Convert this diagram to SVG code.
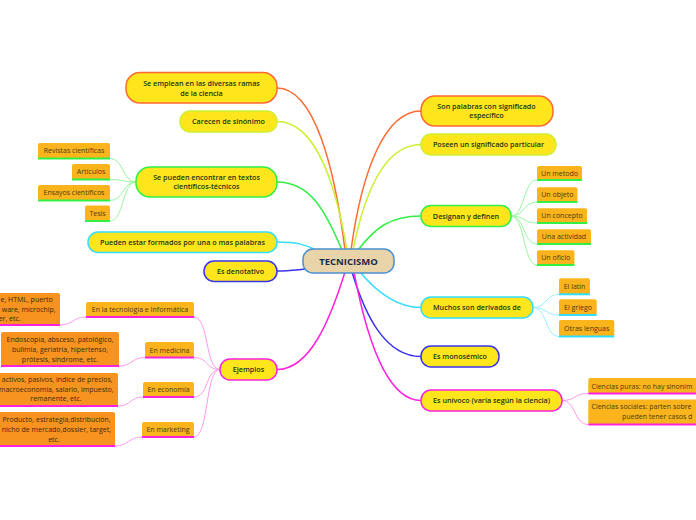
<svg xmlns="http://www.w3.org/2000/svg" width="696" height="520" viewBox="0 0 696 520">
<style>
.bg{fill:#ffffff}
.main{fill:#ffe61c;stroke-width:1.5}
.center{fill:#e8d4a8;stroke:#4a90d0;stroke-width:1.5}
.child{fill:#fbb41b}
.gchild{fill:#f7931e}
.t{font-family:"Open Sans","Noto Sans","DejaVu Sans",sans-serif;font-size:7.2px;font-weight:600;fill:#203514;text-anchor:middle}
.tc{font-family:"Open Sans","Noto Sans","DejaVu Sans",sans-serif;font-size:7px;fill:#4a3a12;text-anchor:middle}
.tg{font-family:"Open Sans","Noto Sans","DejaVu Sans",sans-serif;font-size:7px;fill:#3a2a10;text-anchor:middle}
.te{text-anchor:end}
.ts{text-anchor:start}
.tt{font-family:"Open Sans","Noto Sans","DejaVu Sans",sans-serif;font-size:9.5px;font-weight:700;fill:#1c2a4a;text-anchor:middle}
.c{fill:none;stroke-width:1.5}
.s{fill:none;stroke-width:1}
.u{fill:none;stroke-width:2}
.or{stroke:#ff6a33}
.yg{stroke:#ccf033}
.gr{stroke:#33ee44}
.cy{stroke:#33ddff}
.bl{stroke:#3a33ee}
.mg{stroke:#ff22dd}
.lgr{stroke:#99f7a0}
.lcy{stroke:#99eeff}
.lmg{stroke:#ff99ee}
</style>
<rect class="bg" x="0" y="0" width="696" height="520"/>
<g id="connectors">
<path class="c or" d="M345,250 C335,170 315,88 277,88"/>
<path class="c yg" d="M347,250 C335,180 315,121.5 277,121.5"/>
<path class="c gr" d="M342,250 C325,210 310,182 277,182"/>
<path class="c cy" d="M318,251 C305,244 295,242 277,242"/>
<path class="c bl" d="M306,269 C295,270 288,271 277,271"/>
<path class="c mg" d="M345,272 C330,320 310,369.5 277,369.5"/>
<path class="c or" d="M351,250 C362,170 385,111 421,111"/>
<path class="c yg" d="M353,250 C365,190 385,144.5 421,144.5"/>
<path class="c gr" d="M358,250 C375,228 390,216 421,216"/>
<path class="c cy" d="M360,272 C375,290 395,307.5 421,307.5"/>
<path class="c bl" d="M352,272 C365,315 385,356.5 421,356.5"/>
<path class="c mg" d="M354,272 C365,330 385,400.5 421,400.5"/>
<path class="s lgr" d="M136,182 C122,182 124,158.5 110,158.5"/>
<path class="s lgr" d="M136,182 C122,182 124,179.5 110,179.5"/>
<path class="s lgr" d="M136,182 C122,182 124,200.5 110,200.5"/>
<path class="s lgr" d="M136,182 C122,182 124,221 110,221"/>
<path class="s lmg" d="M220,369.5 C205,369.5 209,317 194,317"/>
<path class="s lmg" d="M220,369.5 C205,369.5 209,357.5 194,357.5"/>
<path class="s lmg" d="M220,369.5 C205,369.5 209,397 194,397"/>
<path class="s lmg" d="M220,369.5 C205,369.5 209,437 194,437"/>
<path class="s lmg" d="M86,317 C73,317 73,325 60,325"/>
<path class="s lmg" d="M145,357.5 C132,357.5 132,366 119,366"/>
<path class="s lmg" d="M143,397 C130,397 131,406 118,406"/>
<path class="s lmg" d="M142,437 C129,437 128,446 115,446"/>
<path class="s lgr" d="M511,216 C525,216 523,180 537,180"/>
<path class="s lgr" d="M511,216 C525,216 523,202 537,202"/>
<path class="s lgr" d="M511,216 C525,216 523,223 537,223"/>
<path class="s lgr" d="M511,216 C525,216 523,244 537,244"/>
<path class="s lgr" d="M511,216 C525,216 523,265 537,265"/>
<path class="s lcy" d="M533,307.5 C547,307.5 545,294.3 559,294.3"/>
<path class="s lcy" d="M533,307.5 C547,307.5 545,315 559,315"/>
<path class="s lcy" d="M533,307.5 C547,307.5 545,336.5 559,336.5"/>
<path class="s lmg" d="M562,400.5 C576,400.5 574,393.5 588,393.5"/>
<path class="s lmg" d="M562,400.5 C576,400.5 574,424.5 588,424.5"/>
</g>
<g id="center">
<rect class="center" x="303" y="249" width="91" height="24" rx="10"/>
<text class="tt" x="348.5" y="264.5">TECNICISMO</text>
</g>
<g id="n-emplean">
<rect class="main or" x="126" y="72.5" width="151" height="30.5" rx="14"/>
<text class="t" x="201.5" y="86">Se emplean en las diversas ramas</text>
<text class="t" x="201.5" y="95.5">de la ciencia</text>
</g>
<g id="n-carecen">
<rect class="main yg" x="180" y="111" width="97" height="21" rx="10"/>
<text class="t" x="228.5" y="124">Carecen de sinónimo</text>
</g>
<g id="n-textos">
<rect class="main gr" x="136" y="167" width="141" height="30" rx="14"/>
<text class="t" x="206.5" y="179.5">Se pueden encontrar en textos</text>
<text class="t" x="206.5" y="189">científicos-técnicos</text>
</g>
<g id="c-revistas">
<rect class="child" x="38" y="143" width="72" height="15.5" rx="2"/>
<path class="u gr" d="M38,158.5 H110"/>
<text class="tc" x="74" y="153">Revistas científicas</text>
</g>
<g id="c-articulos">
<rect class="child" x="72" y="164" width="38" height="15.5" rx="2"/>
<path class="u gr" d="M72,179.5 H110"/>
<text class="tc" x="91" y="174">Artículos</text>
</g>
<g id="c-ensayos">
<rect class="child" x="38" y="185" width="72" height="15.5" rx="2"/>
<path class="u gr" d="M38,200.5 H110"/>
<text class="tc" x="74" y="195">Ensayos científicos</text>
</g>
<g id="c-tesis">
<rect class="child" x="85" y="205.5" width="25" height="15.5" rx="2"/>
<path class="u gr" d="M85,221 H110"/>
<text class="tc" x="97.5" y="215.5">Tesis</text>
</g>
<g id="n-formados">
<rect class="main cy" x="88" y="232" width="189" height="20.5" rx="10"/>
<text class="t" x="182.5" y="245">Pueden estar formados por una o mas palabras</text>
</g>
<g id="n-denotativo">
<rect class="main bl" x="204" y="261" width="73" height="20.5" rx="10"/>
<text class="t" x="240.5" y="274">Es denotativo</text>
</g>
<g id="n-ejemplos">
<rect class="main mg" x="220" y="359" width="57" height="21" rx="10"/>
<text class="t" x="248.5" y="372">Ejemplos</text>
</g>
<g id="c-tecnologia">
<rect class="child" x="86" y="302" width="108" height="15" rx="2"/>
<path class="u mg" d="M86,317 H194"/>
<text class="tc" x="140" y="312">En la tecnología e Informática</text>
</g>
<g id="c-medicina">
<rect class="child" x="145" y="342" width="49" height="15.5" rx="2"/>
<path class="u mg" d="M145,357.5 H194"/>
<text class="tc" x="169.5" y="352.5">En medicina</text>
</g>
<g id="c-economia">
<rect class="child" x="143" y="382" width="51" height="15" rx="2"/>
<path class="u mg" d="M143,397 H194"/>
<text class="tc" x="168.5" y="392">En economía</text>
</g>
<g id="c-marketing">
<rect class="child" x="142" y="422" width="52" height="15" rx="2"/>
<path class="u mg" d="M142,437 H194"/>
<text class="tc" x="168" y="432">En marketing</text>
</g>
<g id="g-tecnologia">
<rect class="gchild" x="-5" y="293" width="65" height="32" rx="2"/>
<path class="u mg" d="M0,325 H60"/>
<text class="tg te" x="52.7" y="302">e, HTML, puerto</text>
<text class="tg te" x="55.7" y="311.5">ware, microchip,</text>
<text class="tg te" x="20.7" y="321">er, etc.</text>
</g>
<g id="g-medicina">
<rect class="gchild" x="1" y="332" width="118" height="34" rx="2"/>
<path class="u mg" d="M1,366 H119"/>
<text class="tg" x="60" y="342">Endoscopía, absceso, patológico,</text>
<text class="tg" x="60" y="352">bulimia, geriatría, hipertenso,</text>
<text class="tg" x="60" y="361.5">prótesis, síndrome, etc.</text>
</g>
<g id="g-economia">
<rect class="gchild" x="-5" y="373" width="123" height="33" rx="2"/>
<path class="u mg" d="M0,406 H118"/>
<text class="tg te" x="112.7" y="381.5">activos, pasivos, índice de precios,</text>
<text class="tg te" x="113.5" y="391.5">macroeconomía, salario, impuesto,</text>
<text class="tg" x="56" y="401">remanente, etc.</text>
</g>
<g id="g-marketing">
<rect class="gchild" x="-5" y="412" width="120" height="34" rx="2"/>
<path class="u mg" d="M0,446 H115"/>
<text class="tg te" x="110.7" y="422">Producto, estrategia,distribución,</text>
<text class="tg te" x="111" y="432">nicho de mercado,dossier, target,</text>
<text class="tg" x="54" y="441.5">etc.</text>
</g>
<g id="n-especifico">
<rect class="main or" x="421" y="96" width="132" height="30" rx="14"/>
<text class="t" x="486.5" y="108.5">Son palabras con significado</text>
<text class="t" x="486.5" y="118">específico</text>
</g>
<g id="n-particular">
<rect class="main yg" x="421" y="134" width="135" height="21" rx="10"/>
<text class="t" x="488.5" y="147">Poseen un significado particular</text>
</g>
<g id="n-designan">
<rect class="main gr" x="421" y="205.5" width="90" height="21" rx="10"/>
<text class="t" x="466" y="218.5">Designan y definen</text>
</g>
<g id="c-metodo">
<rect class="child" x="537" y="166" width="45" height="14" rx="2"/>
<path class="u gr" d="M537,180 H582"/>
<text class="tc" x="559.5" y="175.5">Un metodo</text>
</g>
<g id="c-objeto">
<rect class="child" x="537" y="187.3" width="40.5" height="14.7" rx="2"/>
<path class="u gr" d="M537,202 H577.5"/>
<text class="tc" x="557.3" y="197">Un objeto</text>
</g>
<g id="c-concepto">
<rect class="child" x="537" y="208.3" width="50" height="14.7" rx="2"/>
<path class="u gr" d="M537,223 H587"/>
<text class="tc" x="562" y="218">Un concepto</text>
</g>
<g id="c-actividad">
<rect class="child" x="537" y="229.3" width="54" height="14.7" rx="2"/>
<path class="u gr" d="M537,244 H591"/>
<text class="tc" x="564" y="239">Una actividad</text>
</g>
<g id="c-oficio">
<rect class="child" x="537" y="250.3" width="37.5" height="14.7" rx="2"/>
<path class="u gr" d="M537,265 H574.5"/>
<text class="tc" x="555.7" y="260">Un oficio</text>
</g>
<g id="n-derivados">
<rect class="main cy" x="421" y="297" width="112" height="21" rx="10"/>
<text class="t" x="477" y="310">Muchos son derivados de</text>
</g>
<g id="c-latin">
<rect class="child" x="559" y="278.3" width="31" height="16" rx="2"/>
<path class="u cy" d="M559,294.3 H590"/>
<text class="tc" x="574.5" y="288.5">El latín</text>
</g>
<g id="c-griego">
<rect class="child" x="559" y="299.3" width="37.7" height="15.7" rx="2"/>
<path class="u cy" d="M559,315 H596.7"/>
<text class="tc" x="578" y="309.5">El griego</text>
</g>
<g id="c-otras">
<rect class="child" x="559" y="320" width="55.3" height="16.5" rx="2"/>
<path class="u cy" d="M559,336.5 H614.3"/>
<text class="tc" x="586.7" y="330.5">Otras lenguas</text>
</g>
<g id="n-monosemico">
<rect class="main bl" x="421" y="346" width="78" height="21" rx="10"/>
<text class="t" x="460" y="359">Es monosémico</text>
</g>
<g id="n-univoco">
<rect class="main mg" x="421" y="390" width="141" height="21" rx="10"/>
<text class="t" x="491.5" y="403">Es unívoco (varía según la ciencia)</text>
</g>
<g id="c-puras">
<rect class="child" x="588.3" y="378" width="120" height="15.5" rx="2"/>
<path class="u mg" d="M588.3,393.5 H696"/>
<text class="tc ts" x="591.5" y="388.5">Ciencias puras: no hay sinonim</text>
</g>
<g id="c-sociales">
<rect class="child" x="588.3" y="399.5" width="120" height="25" rx="2"/>
<path class="u mg" d="M588.3,424.5 H696"/>
<text class="tc ts" x="591.5" y="409">Ciencias sociales: parten sobre</text>
<text class="tc ts" x="622" y="418.5">pueden tener casos d</text>
</g>
</svg>
